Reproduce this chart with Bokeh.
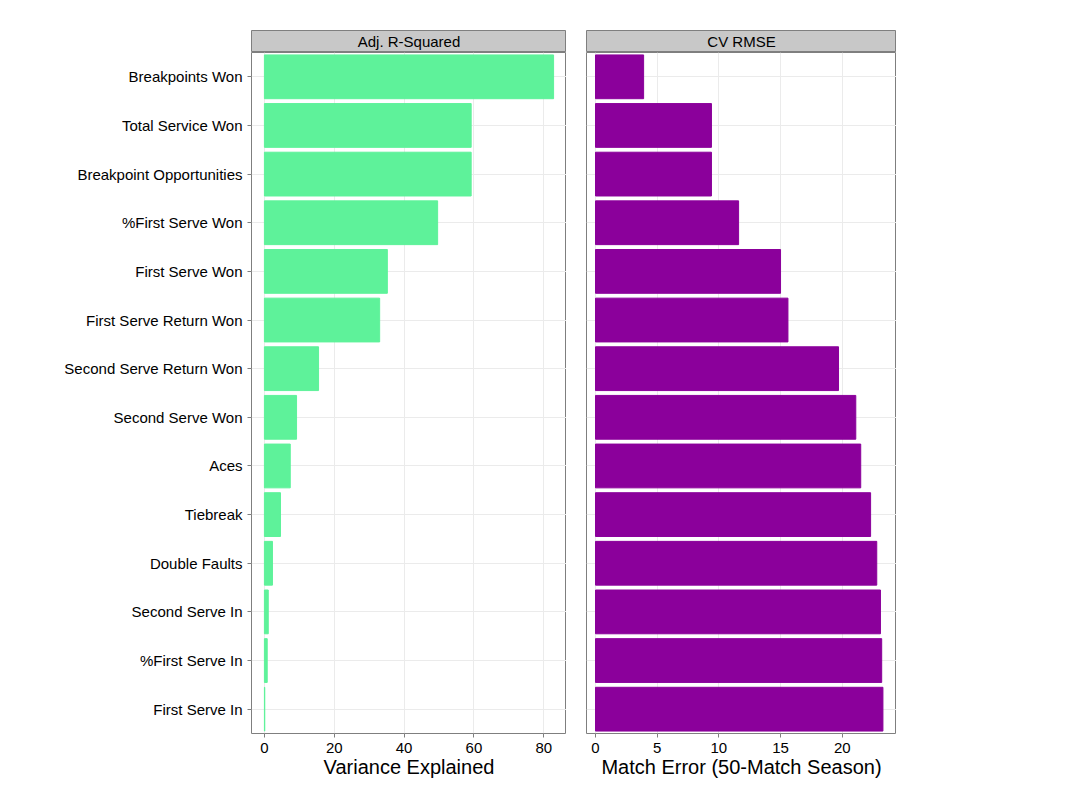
from bokeh.plotting import figure
from bokeh.layouts import row, column
from bokeh.models import Range1d, Label
from bokeh.embed import file_html
from bokeh.resources import INLINE

# categories, top to bottom
stats = ["Breakpoints Won", "Total Service Won", "Breakpoint Opportunities",
         "%First Serve Won", "First Serve Won", "First Serve Return Won",
         "Second Serve Return Won", "Second Serve Won", "Aces", "Tiebreak",
         "Double Faults", "Second Serve In", "%First Serve In", "First Serve In"]
adj_r2 = [82.8, 59.2, 59.2, 49.6, 35.2, 33.0, 15.5, 9.2, 7.4, 4.6, 2.3, 1.1, 0.8, 0.1]
cv_rmse = [3.9, 9.4, 9.4, 11.6, 15.0, 15.6, 19.7, 21.1, 21.5, 22.3, 22.8, 23.1, 23.2, 23.3]

factors = list(reversed(stats))


def strip(title, w, left_border):
    s = figure(x_range=Range1d(0, 1), y_range=Range1d(0, 1), frame_width=w, frame_height=22,
               min_border_left=left_border, min_border_right=0, min_border_top=30,
               min_border_bottom=0, output_backend="svg", toolbar_location=None)
    s.axis.visible = False
    s.grid.visible = False
    s.background_fill_color = "#c8c8c8"
    s.outline_line_color = "#7f7f7f"
    s.add_layout(Label(x=0.5, y=0.5, text=title, text_align="center", text_baseline="middle",
                       text_font="Liberation Sans", text_font_size="15px", text_color="black"))
    return s


def panel(vals, color, xlabel, xr, ticks, w, left_border, show_y):
    p = figure(y_range=factors, x_range=Range1d(*xr), frame_width=w,
               frame_height=681, min_border_left=left_border, min_border_right=0,
               min_border_top=0, min_border_bottom=0,
               output_backend="svg", toolbar_location=None)
    p.hbar(y=stats, right=vals, left=0, height=0.9, color=color)
    p.outline_line_color = "#7f7f7f"
    p.xgrid.grid_line_color = "#ebebeb"
    p.ygrid.grid_line_color = "#ebebeb"
    p.xaxis.ticker = ticks
    p.xaxis.axis_label = xlabel
    p.xaxis.axis_label_text_font = "Liberation Sans"
    p.xaxis.axis_label_text_font_size = "20px"
    p.xaxis.axis_label_text_font_style = "normal"
    p.xaxis.axis_label_text_color = "black"
    p.xaxis.axis_label_standoff = 0
    for ax in [p.xaxis, p.yaxis]:
        ax.axis_line_color = None
        ax.major_label_text_font = "Liberation Sans"
        ax.major_label_text_font_size = "15px"
        ax.major_label_text_color = "black"
        ax.major_tick_line_color = "#7f7f7f"
        ax.major_tick_out = 4
        ax.major_tick_in = 0
        ax.minor_tick_line_color = None
    p.yaxis.visible = show_y
    return p


p1 = panel(adj_r2, "#5ef29a", "Variance Explained", (-3.7, 86.5), [0, 20, 40, 60, 80], 315, 251, True)
p2 = panel(cv_rmse, "#8b009b", "Match Error (50-Match Season)", (-0.73, 24.4), [0, 5, 10, 15, 20], 310, 20, False)
s1 = strip("Adj. R-Squared", 315, 251)
s2 = strip("CV RMSE", 310, 20)

p = column(row(s1, s2), row(p1, p2), spacing=0)
open("out.html", "w").write(file_html(p, INLINE))
